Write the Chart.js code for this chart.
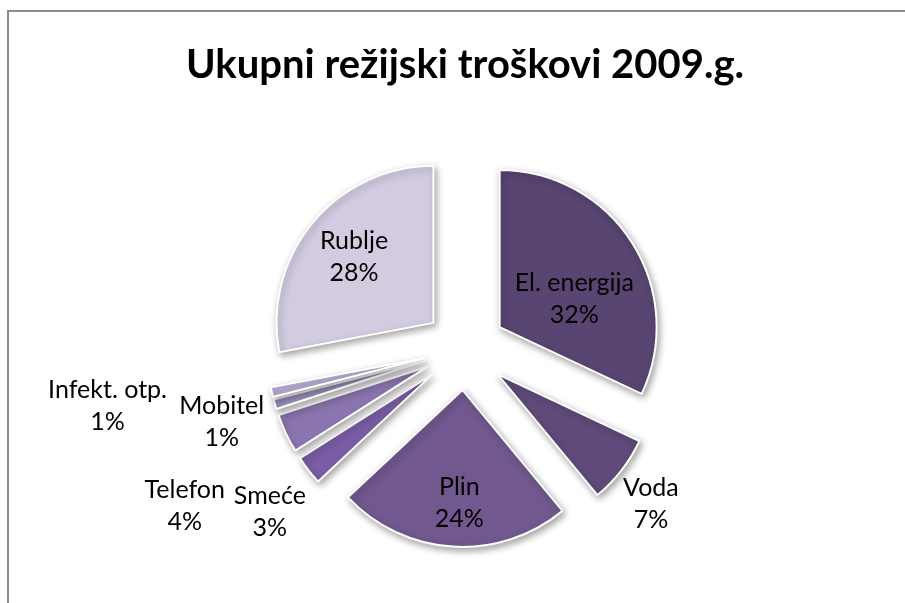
<!DOCTYPE html>
<html>
<head>
<meta charset="utf-8">
<script src="https://cdn.jsdelivr.net/npm/chart.js@4/dist/chart.umd.min.js"></script>
<style>
  html, body { margin: 0; padding: 0; background: #fff; }
  #wrap { width: 905px; height: 603px; }
</style>
</head>
<body>
<div id="wrap"><canvas id="chart" width="905" height="603"></canvas></div>
<script>
const title = 'Ukupni režijski troškovi 2009.g.';
const categories = ['El. energija', 'Voda', 'Plin', 'Smeće', 'Telefon', 'Mobitel', 'Infekt. otp.', 'Rublje'];
const shares = [32, 7, 24, 3, 4, 1, 1, 28];
const colors = ['#584572', '#604a7b', '#71588f', '#7a5da6', '#8b76b0', '#a597c6', '#b8add2', '#d3cce1'];

// label placement: distance from pie centre (px) and angle nudge (deg)
const labelDist = [120, 242, 154, 254, 321, 254, 362, 144];
const labelNudge = [8, 2, -1.5, -2, -4, -0.5, 3.5, 0];
const EXPLODE = 41;

const FONT = 'Lato, "Open Sans", sans-serif';

const frame = {
  id: 'frame',
  beforeDraw(chart) {
    const ctx = chart.ctx;
    ctx.save();
    ctx.fillStyle = '#fff';
    ctx.fillRect(0, 0, chart.width, chart.height);
    ctx.strokeStyle = '#8c8c8c';
    ctx.lineWidth = 2;
    ctx.beginPath();
    ctx.moveTo(8, chart.height + 5);
    ctx.lineTo(8, 11);
    ctx.lineTo(chart.width + 5, 11);
    ctx.stroke();
    ctx.restore();
  }
};

// Chart.js offset also grows thin slices, so push every arc out by hand
const exploded = {
  id: 'exploded',
  beforeDatasetsDraw(chart) {
    const ctx = chart.ctx;
    const meta = chart.getDatasetMeta(0);
    ctx.save();
    ctx.shadowColor = 'rgba(0,0,0,0.35)';
    ctx.shadowBlur = 7;
    ctx.shadowOffsetX = 2;
    ctx.shadowOffsetY = 3;
    meta.data.forEach(arc => {
      const mid = (arc.startAngle + arc.endAngle) / 2;
      ctx.save();
      ctx.translate(Math.cos(mid) * EXPLODE, Math.sin(mid) * EXPLODE);
      arc.draw(ctx);
      ctx.restore();
    });
    ctx.restore();
    return false;
  },
  afterDraw(chart) {
    const ctx = chart.ctx;
    const meta = chart.getDatasetMeta(0);
    ctx.save();
    ctx.fillStyle = '#000';
    ctx.font = '25px ' + FONT;
    ctx.textAlign = 'center';
    ctx.textBaseline = 'middle';
    meta.data.forEach((arc, i) => {
      const mid = (arc.startAngle + arc.endAngle) / 2 + labelNudge[i] * Math.PI / 180;
      const x = arc.x + Math.cos(mid) * labelDist[i];
      const y = arc.y + Math.sin(mid) * labelDist[i];
      ctx.fillText(categories[i], x, y - 16);
      ctx.fillText(shares[i] + '%', x, y + 16);
    });
    ctx.restore();
  }
};

new Chart(document.getElementById('chart'), {
  type: 'pie',
  data: {
    labels: categories,
    datasets: [{
      data: shares,
      backgroundColor: colors,
      borderColor: '#fff',
      borderWidth: 2
    }]
  },
  options: {
    responsive: false,
    animation: false,
    radius: 157,
    layout: { padding: { left: 25, right: 0, top: 0, bottom: 10 } },
    plugins: {
      legend: { display: false },
      tooltip: { enabled: false },
      title: {
        display: true,
        text: title,
        color: '#000',
        font: { family: FONT, size: 40, weight: 'bold', lineHeight: 1.2 },
        padding: { top: 41, bottom: 16 }
      }
    }
  },
  plugins: [frame, exploded]
});
</script>
</body>
</html>
